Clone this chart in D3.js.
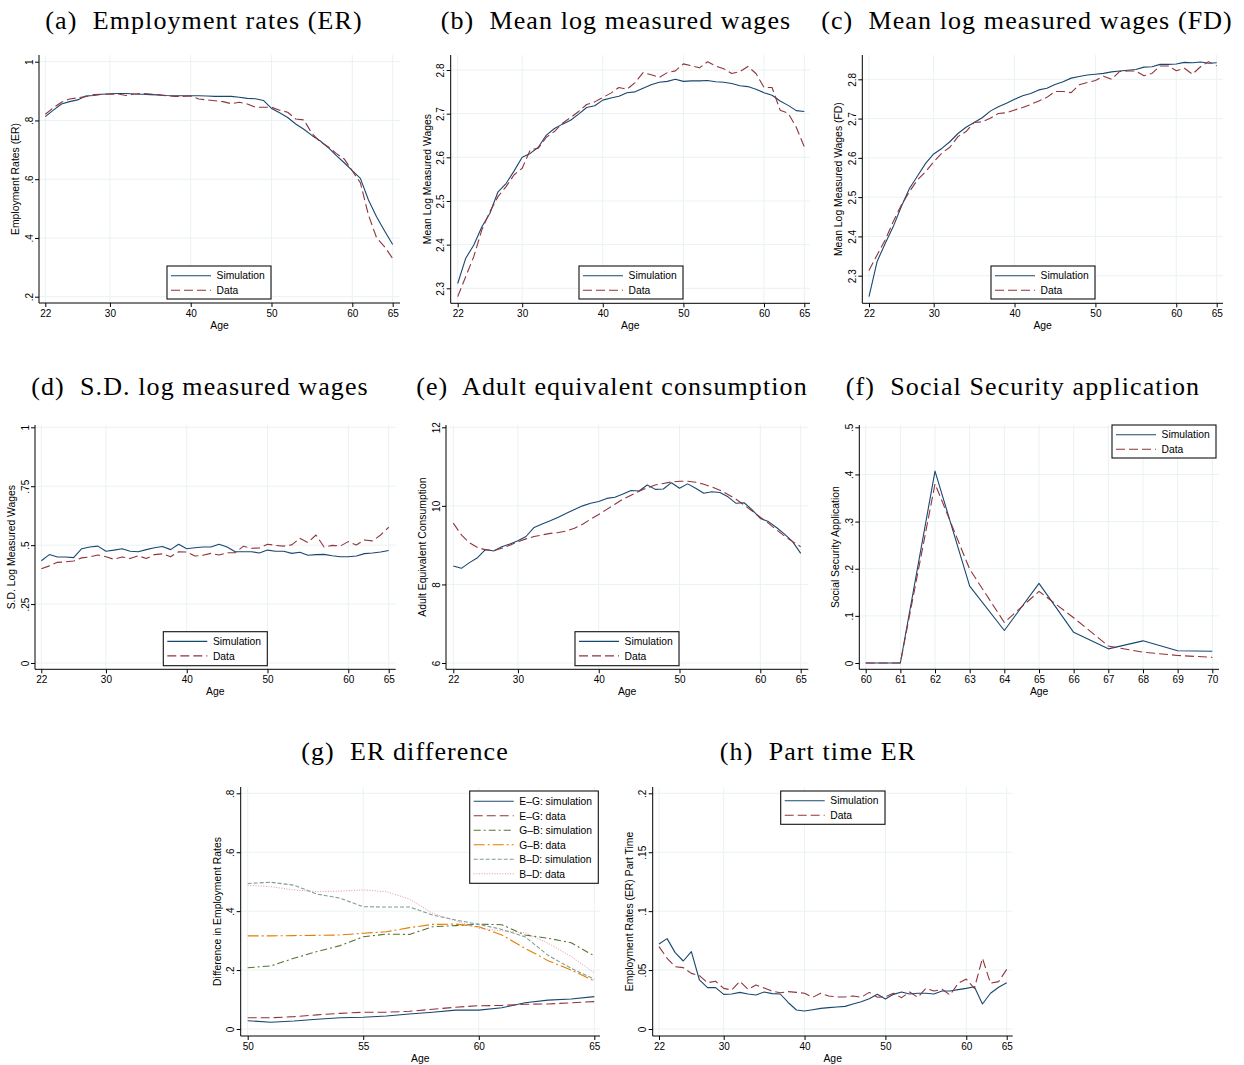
<!DOCTYPE html>
<html>
<head>
<meta charset="utf-8">
<script src="https://cdn.jsdelivr.net/npm/d3@7"></script>
<style>
  body { margin: 0; background: #fff; }
  svg { display: block; }
  text { font-family: "Liberation Sans", Arial, Helvetica, sans-serif; fill: #000; }
  .title { font-family: "Liberation Serif", "Times New Roman", serif; font-size: 26px; letter-spacing: 1.1px; white-space: pre; }
  .tick text { font-size: 10px; }
  .axtitle { font-size: 10.4px; }
  .legend text { font-size: 10.3px; }
</style>
</head>
<body>
<svg id="fig" width="1244" height="1065"></svg>
<script>
// ---- ages ----
const ages = [22,23,24,25,26,27,28,29,30,31,32,33,34,35,36,37,38,39,40,41,42,43,
              44,45,46,47,48,49,50,51,52,53,54,55,56,57,58,59,60,61,62,63,64,65];
const ssAges = [60,61,62,63,64,65,66,67,68,69,70];
const diffAges = [50,51,52,53,54,55,56,57,58,59,60,61,62,63,64,65];

// ---- tick values ----
const ageTicks = [22,30,40,50,60,65];
const ssTicks = [60,61,62,63,64,65,66,67,68,69,70];
const diffTicks = [50,55,60,65];
const erTicks = [0.2,0.4,0.6,0.8,1];
const wageTicks = [2.3,2.4,2.5,2.6,2.7,2.8];
const sdTicks = [0,0.25,0.5,0.75,1];
const consTicks = [6,8,10,12];
const ssTicksY = [0,0.1,0.2,0.3,0.4,0.5];
const diffTicksY = [0,0.2,0.4,0.6,0.8];
const ptTicksY = [0,0.05,0.1,0.15,0.2];

// ---- (a) employment rates ----
const erSim = [0.813,0.835,0.856,0.864,0.870,0.883,0.885,0.889,0.891,0.892,0.892,0.890,0.889,0.888,
  0.887,0.885,0.884,0.884,0.884,0.884,0.883,0.882,0.882,0.882,0.879,0.875,0.874,0.868,0.841,0.826,
  0.810,0.788,0.770,0.749,0.731,0.708,0.681,0.656,0.629,0.603,0.529,0.472,0.424,0.378];
const erData = [0.821,0.843,0.862,0.873,0.877,0.881,0.888,0.889,0.889,0.890,0.885,0.890,0.892,0.890,
  0.887,0.884,0.882,0.882,0.883,0.873,0.870,0.867,0.864,0.857,0.862,0.856,0.845,0.845,0.845,0.835,
  0.828,0.805,0.802,0.756,0.728,0.711,0.688,0.669,0.628,0.588,0.478,0.401,0.370,0.330];

// ---- (b) mean log measured wages ----
const lwSim = [2.311,2.369,2.399,2.441,2.472,2.521,2.540,2.569,2.600,2.609,2.623,2.651,2.666,2.676,
  2.685,2.699,2.714,2.718,2.731,2.736,2.740,2.748,2.750,2.758,2.766,2.772,2.774,2.779,2.774,2.775,
  2.775,2.776,2.773,2.772,2.769,2.764,2.762,2.756,2.748,2.742,2.729,2.719,2.707,2.705];
const lwData = [2.281,2.327,2.373,2.434,2.476,2.510,2.533,2.560,2.575,2.617,2.621,2.646,2.659,2.678,
  2.691,2.705,2.721,2.727,2.737,2.747,2.760,2.756,2.771,2.794,2.789,2.783,2.794,2.798,2.814,2.810,
  2.805,2.819,2.809,2.803,2.792,2.796,2.808,2.792,2.760,2.760,2.708,2.701,2.669,2.624];

// ---- (c) mean log measured wages (FD) ----
const fdSim = [2.247,2.336,2.382,2.425,2.476,2.522,2.554,2.586,2.610,2.624,2.641,2.662,2.678,2.690,
  2.702,2.719,2.730,2.739,2.749,2.758,2.764,2.773,2.777,2.787,2.794,2.803,2.807,2.811,2.813,2.815,
  2.819,2.821,2.823,2.825,2.831,2.832,2.838,2.838,2.839,2.843,2.842,2.844,2.841,2.842];
const fdData = [2.313,2.353,2.391,2.438,2.480,2.514,2.544,2.565,2.590,2.612,2.627,2.654,2.667,2.690,
  2.692,2.701,2.713,2.715,2.722,2.728,2.736,2.745,2.754,2.769,2.769,2.766,2.786,2.792,2.797,2.808,
  2.800,2.820,2.821,2.821,2.809,2.815,2.834,2.834,2.822,2.828,2.813,2.832,2.845,2.834];

// ---- (d) s.d. log measured wages ----
const sdSim = [0.434,0.460,0.450,0.450,0.447,0.485,0.492,0.496,0.474,0.479,0.485,0.474,0.472,0.481,
  0.489,0.494,0.481,0.504,0.485,0.489,0.492,0.492,0.504,0.492,0.472,0.472,0.472,0.467,0.479,0.474,
  0.474,0.465,0.470,0.457,0.460,0.461,0.455,0.451,0.451,0.454,0.464,0.467,0.471,0.477];
const sdData = [0.400,0.412,0.427,0.429,0.433,0.446,0.450,0.458,0.451,0.440,0.450,0.443,0.455,0.443,
  0.460,0.463,0.451,0.472,0.471,0.454,0.457,0.465,0.458,0.468,0.468,0.495,0.487,0.488,0.504,0.499,
  0.496,0.501,0.529,0.511,0.543,0.492,0.499,0.496,0.515,0.501,0.522,0.518,0.543,0.576];

// ---- (e) adult equivalent consumption ----
const consSim = [8.47,8.41,8.555,8.68,8.89,8.85,8.96,9.03,9.11,9.22,9.45,9.54,9.62,9.71,
  9.81,9.91,10.0,10.065,10.11,10.19,10.22,10.30,10.39,10.38,10.53,10.42,10.43,10.59,10.45,10.56,
  10.45,10.32,10.36,10.34,10.23,10.065,10.08,9.90,9.68,9.60,9.45,9.28,9.09,8.79];
const consData = [9.56,9.26,9.06,8.94,8.88,8.86,8.92,9.00,9.09,9.16,9.22,9.26,9.30,9.32,
  9.36,9.43,9.53,9.66,9.78,9.91,10.04,10.17,10.27,10.37,10.46,10.53,10.57,10.61,10.625,10.625,
  10.60,10.55,10.48,10.40,10.29,10.17,10.02,9.87,9.71,9.56,9.39,9.23,9.09,8.96];

// ---- (f) social security application ----
const ssSim = [0,0,0.407,0.163,0.069,0.169,0.065,0.030,0.047,0.026,0.025];
const ssData = [0,0,0.380,0.199,0.086,0.152,0.096,0.036,0.023,0.016,0.012];

// ---- (g) employment rate differences ----
const egSim = [0.028,0.023,0.027,0.033,0.038,0.040,0.044,0.051,0.057,0.064,0.064,0.072,0.089,0.098,0.102,0.110];
const egData = [0.038,0.038,0.042,0.048,0.053,0.057,0.057,0.060,0.067,0.074,0.079,0.080,0.084,0.085,0.089,0.093];
const gbSim = [0.208,0.214,0.240,0.263,0.283,0.313,0.322,0.321,0.347,0.351,0.356,0.354,0.319,0.308,0.293,0.248];
const gbData = [0.316,0.316,0.317,0.318,0.319,0.325,0.330,0.344,0.355,0.356,0.347,0.319,0.274,0.232,0.200,0.163];
const bdSim = [0.494,0.498,0.488,0.458,0.444,0.415,0.414,0.414,0.387,0.370,0.355,0.338,0.313,0.250,0.206,0.169];
const bdData = [0.488,0.483,0.472,0.466,0.468,0.472,0.466,0.441,0.393,0.367,0.342,0.333,0.327,0.291,0.246,0.191];

// ---- (h) part-time employment rates ----
const ptSim = [0.0721,0.0767,0.0648,0.0577,0.0656,0.0416,0.0351,0.0351,0.0294,0.0297,0.0311,0.0297,
  0.0289,0.0314,0.0300,0.0297,0.0223,0.0161,0.0153,0.0164,0.0175,0.0181,0.0187,0.0192,0.0212,0.0232,
  0.0257,0.0294,0.0255,0.0294,0.0314,0.0297,0.0303,0.0303,0.0297,0.0322,0.0322,0.0334,0.0345,0.0359,
  0.0212,0.0303,0.0354,0.0393];
const ptData = [0.0699,0.0600,0.0529,0.0521,0.0472,0.0453,0.0393,0.0405,0.0345,0.0331,0.0405,0.0337,
  0.0373,0.0348,0.0322,0.0308,0.0317,0.0311,0.0303,0.0269,0.0303,0.0280,0.0272,0.0272,0.0280,0.0269,
  0.0311,0.0269,0.0274,0.0303,0.0266,0.0314,0.0269,0.0345,0.0322,0.0337,0.0289,0.0388,0.0424,0.0345,
  0.0600,0.0388,0.0402,0.0506];

// ---- styles (Stata s2color palette) ----
const GRID = "#eaf2f3";
const STY = {
  sim:    { color: "#1a476f", dash: null,            width: 1.1 },
  data:   { color: "#90353b", dash: "9,4",           width: 1.1 },
  gbSim:  { color: "#55752f", dash: "7,3,2,3",       width: 1.1 },
  gbData: { color: "#e37e00", dash: "11,3,2,3",      width: 1.1 },
  bdSim:  { color: "#7f9e94", dash: "4,2",           width: 1.1 },
  bdData: { color: "#e0869b", dash: "1,1.6",         width: 0.9 }
};
const simItem  = { label: "Simulation", sty: "sim" };
const dataItem = { label: "Data",       sty: "data" };

// Stata-style numeric labels: ".2", "2.8", "0", "12"
function stataFmt(v) {
  let s = String(+v.toFixed(4));
  if (s.startsWith("0.")) s = s.slice(1);
  return s;
}

const panels = [
  { title: "(a)  Employment rates (ER)", tx: 204, ty: 29,
    ax: 39, top: 55, bottom: 303, right: 400,
    xDom: [22,65], xRng: [45.3,392.7], xTicks: ageTicks,
    yDom: [0.2,1], yRng: [296.7,61.7], yTicks: erTicks,
    yTitle: "Employment Rates (ER)",
    series: [{ xs: ages, ys: erSim, sty: "sim" }, { xs: ages, ys: erData, sty: "data" }],
    legend: { x: 167, y: 266, w: 104, h: 33, items: [simItem, dataItem] } },
  { title: "(b)  Mean log measured wages", tx: 616, ty: 29,
    ax: 450.7, top: 55, bottom: 303.3, right: 810,
    xDom: [22,65], xRng: [457.7,804.3], xTicks: ageTicks,
    yDom: [2.3,2.8], yRng: [288.3,70], yTicks: wageTicks,
    yTitle: "Mean Log Measured Wages",
    series: [{ xs: ages, ys: lwSim, sty: "sim" }, { xs: ages, ys: lwData, sty: "data" }],
    legend: { x: 579, y: 266, w: 104, h: 33, items: [simItem, dataItem] } },
  { title: "(c)  Mean log measured wages (FD)", tx: 1027, ty: 29,
    ax: 862.3, top: 55, bottom: 303.3, right: 1223,
    xDom: [22,65], xRng: [869,1216.7], xTicks: ageTicks,
    yDom: [2.3,2.8], yRng: [275.7,79.3], yTicks: wageTicks,
    yTitle: "Mean Log Measured Wages (FD)",
    series: [{ xs: ages, ys: fdSim, sty: "sim" }, { xs: ages, ys: fdData, sty: "data" }],
    legend: { x: 991, y: 266, w: 104, h: 33, items: [simItem, dataItem] } },
  { title: "(d)  S.D. log measured wages", tx: 200, ty: 394.5,
    ax: 35, top: 425, bottom: 669.3, right: 395.7,
    xDom: [22,65], xRng: [41.3,388.7], xTicks: ageTicks,
    yDom: [0,1], yRng: [663,427.3], yTicks: sdTicks,
    yTitle: "S.D. Log Measured Wages",
    series: [{ xs: ages, ys: sdSim, sty: "sim" }, { xs: ages, ys: sdData, sty: "data" }],
    legend: { x: 163.3, y: 631.7, w: 104, h: 34, items: [simItem, dataItem] } },
  { title: "(e)  Adult equivalent consumption", tx: 612, ty: 394.5,
    ax: 446, top: 425, bottom: 669.3, right: 808.3,
    xDom: [22,65], xRng: [453.3,800.7], xTicks: ageTicks,
    yDom: [6,12], yRng: [663,427.3], yTicks: consTicks,
    yTitle: "Adult Equivalent Consumption",
    series: [{ xs: ages, ys: consSim, sty: "sim" }, { xs: ages, ys: consData, sty: "data" }],
    legend: { x: 575, y: 631.7, w: 104, h: 34, items: [simItem, dataItem] } },
  { title: "(f)  Social Security application", tx: 1023, ty: 394.5,
    ax: 859.3, top: 425, bottom: 669.3, right: 1219,
    xDom: [60,70], xRng: [865.7,1212.3], xTicks: ssTicks,
    yDom: [0,0.5], yRng: [663,427.3], yTicks: ssTicksY,
    yTitle: "Social Security Application",
    series: [{ xs: ssAges, ys: ssSim, sty: "sim" }, { xs: ssAges, ys: ssData, sty: "data" }],
    legend: { x: 1112, y: 425, w: 104, h: 33, items: [simItem, dataItem] } },
  { title: "(g)  ER difference", tx: 405, ty: 760,
    ax: 240.7, top: 787, bottom: 1036, right: 600,
    xDom: [50,65], xRng: [247.7,594.3], xTicks: diffTicks,
    yDom: [0,0.8], yRng: [1029,793.3], yTicks: diffTicksY,
    yTitle: "Difference in Employment Rates",
    series: [
      { xs: diffAges, ys: egSim, sty: "sim" }, { xs: diffAges, ys: egData, sty: "data" },
      { xs: diffAges, ys: gbSim, sty: "gbSim" }, { xs: diffAges, ys: gbData, sty: "gbData" },
      { xs: diffAges, ys: bdSim, sty: "bdSim" }, { xs: diffAges, ys: bdData, sty: "bdData" }],
    legend: { x: 469.7, y: 791, w: 128.6, h: 92.3, items: [
      { label: "E\u2013G: simulation", sty: "sim" }, { label: "E\u2013G: data", sty: "data" },
      { label: "G\u2013B: simulation", sty: "gbSim" }, { label: "G\u2013B: data", sty: "gbData" },
      { label: "B\u2013D: simulation", sty: "bdSim" }, { label: "B\u2013D: data", sty: "bdData" }] } },
  { title: "(h)  Part time ER", tx: 818, ty: 760,
    ax: 652.7, top: 787, bottom: 1036, right: 1012.7,
    xDom: [22,65], xRng: [659,1006.7], xTicks: ageTicks,
    yDom: [0,0.2], yRng: [1029,793.3], yTicks: ptTicksY,
    yTitle: "Employment Rates (ER) Part Time",
    series: [{ xs: ages, ys: ptSim, sty: "sim" }, { xs: ages, ys: ptData, sty: "data" }],
    legend: { x: 780.7, y: 791, w: 104.3, h: 33.3, items: [simItem, dataItem] } }
];

const svg = d3.select("#fig");

function drawPanel(p) {
  const g = svg.append("g");
  const x = d3.scaleLinear().domain(p.xDom).range(p.xRng);
  const y = d3.scaleLinear().domain(p.yDom).range(p.yRng);

  // panel title
  svg.append("text").attr("class", "title")
    .attr("x", p.tx).attr("y", p.ty).attr("text-anchor", "middle").text(p.title);

  // gridlines
  g.append("g").selectAll("line").data(p.yTicks).join("line")
    .attr("x1", p.ax).attr("x2", p.right)
    .attr("y1", d => y(d)).attr("y2", d => y(d))
    .attr("stroke", GRID).attr("stroke-width", 1);
  g.append("g").selectAll("line").data(p.xTicks).join("line")
    .attr("x1", d => x(d)).attr("x2", d => x(d))
    .attr("y1", p.top).attr("y2", p.bottom)
    .attr("stroke", GRID).attr("stroke-width", 1);

  // series
  p.series.forEach(s => {
    const st = STY[s.sty];
    const line = d3.line().x((d, i) => x(s.xs[i])).y(d => y(d));
    g.append("path").datum(s.ys)
      .attr("d", line).attr("fill", "none")
      .attr("stroke", st.color).attr("stroke-width", st.width)
      .attr("stroke-dasharray", st.dash)
      .attr("stroke-linejoin", "round");
  });

  // x axis
  const xa = g.append("g").attr("transform", `translate(0,${p.bottom})`)
    .call(d3.axisBottom(x).tickValues(p.xTicks).tickSize(4).tickPadding(3).tickFormat(d3.format("d")));
  xa.select(".domain").remove();
  xa.selectAll(".tick line").attr("stroke", "#000");
  xa.append("line").attr("x1", p.ax).attr("x2", p.right).attr("y1", 0).attr("y2", 0)
    .attr("stroke", "#000").attr("stroke-width", 1);
  g.append("text").attr("class", "axtitle").attr("text-anchor", "middle")
    .attr("x", (p.ax + p.right) / 2).attr("y", p.bottom + 25.5).text("Age");

  // y axis with vertical tick labels
  const ya = g.append("g").attr("transform", `translate(${p.ax},0)`)
    .call(d3.axisLeft(y).tickValues(p.yTicks).tickSize(4).tickFormat(stataFmt));
  ya.select(".domain").remove();
  ya.selectAll(".tick line").attr("stroke", "#000");
  ya.selectAll(".tick text")
    .attr("transform", "rotate(-90)").attr("x", 0).attr("y", -6.5).attr("dy", null)
    .attr("text-anchor", "middle");
  ya.append("line").attr("x1", 0).attr("x2", 0).attr("y1", p.top).attr("y2", p.bottom)
    .attr("stroke", "#000").attr("stroke-width", 1);
  const cy = (p.top + p.bottom) / 2;
  g.append("text").attr("class", "axtitle").attr("text-anchor", "middle")
    .attr("transform", `translate(${p.ax - 20},${cy}) rotate(-90)`).text(p.yTitle);

  // legend
  const L = p.legend;
  const lg = g.append("g").attr("class", "legend").attr("transform", `translate(${L.x},${L.y})`);
  lg.append("rect").attr("width", L.w).attr("height", L.h)
    .attr("fill", "#fff").attr("stroke", "#111").attr("stroke-width", 1.1);
  const rowH = 14.5, first = L.items.length > 2 ? 10.3 : 9.7;
  L.items.forEach((it, i) => {
    const st = STY[it.sty];
    const ry = first + i * rowH;
    lg.append("line").attr("x1", 4).attr("x2", 44).attr("y1", ry).attr("y2", ry)
      .attr("stroke", st.color).attr("stroke-width", st.width).attr("stroke-dasharray", st.dash);
    lg.append("text").attr("x", 49.6).attr("y", ry + 3.7).text(it.label);
  });
}

panels.forEach(drawPanel);
</script>
</body>
</html>
